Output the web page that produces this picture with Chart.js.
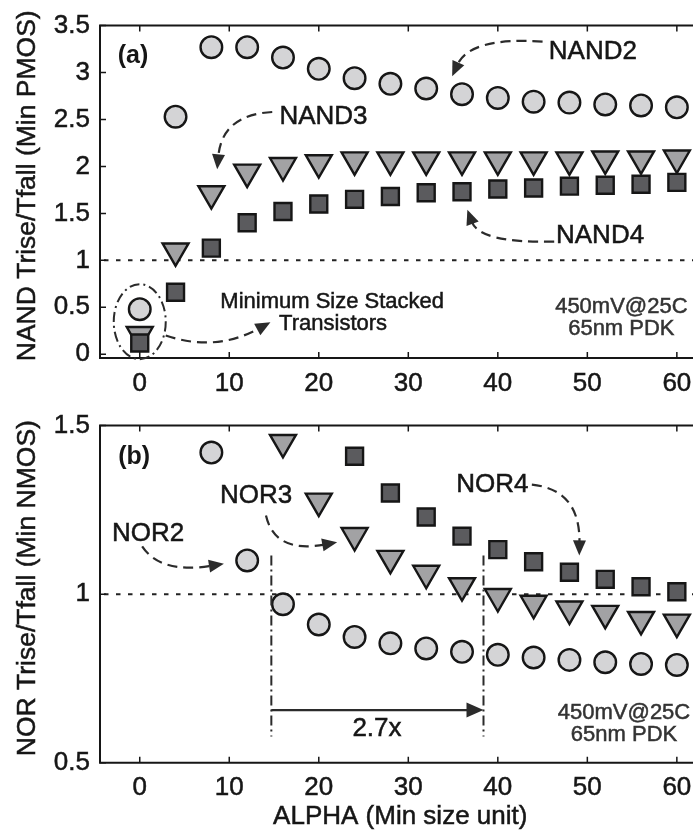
<!DOCTYPE html>
<html>
<head>
<meta charset="utf-8">
<script src="https://cdn.jsdelivr.net/npm/chart.js@4.4.1/dist/chart.umd.min.js"></script>
<style>
  html, body { margin: 0; padding: 0; background: #fff; }
  #wrap { position: relative; width: 693px; height: 833px; overflow: hidden; }
  canvas { position: absolute; left: 0; }
  #nandChart { top: 0; }
  #norChart { top: 400px; }
</style>
</head>
<body>
<div id="wrap">
  <canvas id="nandChart" width="760" height="400"></canvas>
  <canvas id="norChart" width="760" height="433"></canvas>
</div>
<script>
const alpha = [0, 4, 8, 12, 16, 20, 24, 28, 32, 36, 40, 44, 48, 52, 56, 60];
const nand2 = [0.48, 2.53, 3.27, 3.27, 3.16, 3.04, 2.94, 2.88, 2.83, 2.77, 2.73, 2.69, 2.68, 2.66, 2.65, 2.63];
const nand3 = [0.21, 1.10, 1.71, 1.94, 2.01, 2.04, 2.07, 2.07, 2.07, 2.07, 2.07, 2.07, 2.07, 2.08, 2.08, 2.09];
const nand4 = [0.12, 0.66, 1.13, 1.40, 1.52, 1.60, 1.65, 1.68, 1.72, 1.73, 1.76, 1.77, 1.79, 1.80, 1.81, 1.83];
const nor2 = [null, null, 1.42, 1.10, 0.97, 0.91, 0.873, 0.854, 0.839, 0.829, 0.820, 0.812, 0.805, 0.798, 0.793, 0.790];
const nor3 = [null, null, null, null, 1.45, 1.276, 1.174, 1.106, 1.062, 1.025, 0.993, 0.973, 0.956, 0.943, 0.925, 0.917];
const nor4 = [null, null, null, null, null, null, 1.409, 1.30, 1.229, 1.172, 1.132, 1.096, 1.065, 1.044, 1.022, 1.007];

const xTicks = [0, 10, 20, 30, 40, 50, 60];
const nandTicks = [0, 0.5, 1, 1.5, 2, 2.5, 3, 3.5];
const norTicks = [0.5, 1, 1.5];
const nandTitle = 'NAND Trise/Tfall (Min PMOS)';
const norTitle = 'NOR Trise/Tfall (Min NMOS)';
const xTitle = 'ALPHA (Min size unit)';
const condition = ['450mV@25C', '65nm PDK'];

const FONT = "'Liberation Sans', Arial, Helvetica, sans-serif";
const INK = '#161616';

const pts = (ys) => alpha.map((x, i) => ({ x, y: ys[i] })).filter(p => p.y !== null);

const circleSet = (ys) => ({ data: pts(ys), pointStyle: 'circle', radius: 10.8, backgroundColor: '#d4d4d6', borderColor: INK, borderWidth: 2.4, order: 3 });
const triSet = (ys) => ({ data: pts(ys), pointStyle: 'triangle', rotation: 180, radius: 15, backgroundColor: '#a2a2a4', borderColor: INK, borderWidth: 2.4, order: 2 });
const squareSet = (ys) => ({ data: pts(ys), pointStyle: 'rect', radius: 12, backgroundColor: '#5b5b5e', borderColor: INK, borderWidth: 2.4, order: 1 });

function toPx(chart, p) {
  return { x: chart.scales.x.getPixelForValue(p[0]), y: chart.scales.y.getPixelForValue(p[1]) };
}

function arrowHead(ctx, tip, from, len, half) {
  const dx = tip.x - from.x, dy = tip.y - from.y;
  const d = Math.hypot(dx, dy) || 1;
  const ux = dx / d, uy = dy / d;
  const bx = tip.x - ux * len, by = tip.y - uy * len;
  ctx.beginPath();
  ctx.moveTo(tip.x, tip.y);
  ctx.lineTo(bx - uy * half, by + ux * half);
  ctx.lineTo(bx + uy * half, by - ux * half);
  ctx.closePath();
  ctx.fill();
  return { x: bx + ux * 2, y: by + uy * 2 };
}

function curvedArrow(chart, p0, p1, p2) {
  const ctx = chart.ctx;
  const a = toPx(chart, p0), b = toPx(chart, p1), c = toPx(chart, p2);
  ctx.save();
  ctx.strokeStyle = '#2b2b2b';
  ctx.fillStyle = '#2b2b2b';
  ctx.lineWidth = 2.2;
  const base = arrowHead(ctx, c, b, 15, 6.5);
  ctx.setLineDash([10, 6]);
  ctx.beginPath();
  ctx.moveTo(a.x, a.y);
  ctx.quadraticCurveTo(b.x, b.y, base.x, base.y);
  ctx.stroke();
  ctx.restore();
}

function label(chart, txt, p, size, opts = {}) {
  const ctx = chart.ctx;
  const q = toPx(chart, p);
  ctx.save();
  ctx.font = `${opts.bold ? 'bold ' : ''}${size}px ${FONT}`;
  ctx.fillStyle = opts.color || INK;
  ctx.strokeStyle = opts.color || INK;
  ctx.lineWidth = 0.5;
  ctx.textAlign = opts.align || 'center';
  ctx.textBaseline = 'middle';
  ctx.fillText(txt, q.x, q.y);
  if (!opts.bold) ctx.strokeText(txt, q.x, q.y);
  ctx.restore();
}

function vDashDot(chart, x, y0, y1) {
  const ctx = chart.ctx;
  const a = toPx(chart, [x, y0]), b = toPx(chart, [x, y1]);
  ctx.save();
  ctx.strokeStyle = '#2b2b2b';
  ctx.lineWidth = 2;
  ctx.setLineDash([10, 4, 2, 4]);
  ctx.beginPath();
  ctx.moveTo(a.x, a.y);
  ctx.lineTo(b.x, b.y);
  ctx.stroke();
  ctx.restore();
}

const frame = {
  id: 'frame',
  beforeDatasetsDraw(chart, args, o) {
    const { ctx, chartArea: ca } = chart;
    const y = chart.scales.y.getPixelForValue(o.refY);
    ctx.save();
    ctx.strokeStyle = '#222';
    ctx.lineWidth = 2;
    ctx.setLineDash([4.5, 7.5]);
    ctx.beginPath();
    ctx.moveTo(ca.left + 4, y);
    ctx.lineTo(ca.right, y);
    ctx.stroke();
    ctx.restore();
  },
  afterDatasetsDraw(chart, args, o) {
    const { ctx, chartArea: ca } = chart;
    ctx.save();
    ctx.strokeStyle = INK;
    ctx.lineWidth = 2;
    ctx.beginPath();
    ctx.moveTo(ca.right, ca.top);
    ctx.lineTo(ca.left, ca.top);
    ctx.lineTo(ca.left, ca.bottom);
    ctx.lineTo(ca.right, ca.bottom);
    ctx.stroke();
    ctx.lineWidth = 1.5;
    ctx.beginPath();
    xTicks.forEach(v => {
      const x = chart.scales.x.getPixelForValue(v);
      ctx.moveTo(x, ca.top); ctx.lineTo(x, ca.top + 6);
      ctx.moveTo(x, ca.bottom); ctx.lineTo(x, ca.bottom - 6);
    });
    o.yTicks.forEach(v => {
      const y = chart.scales.y.getPixelForValue(v);
      ctx.moveTo(ca.left, y); ctx.lineTo(ca.left + 6, y);
    });
    ctx.stroke();

    ctx.fillStyle = INK;
    ctx.strokeStyle = INK;
    ctx.lineWidth = 0.5;
    ctx.font = `26.5px ${FONT}`;
    ctx.textAlign = 'center';
    ctx.textBaseline = 'middle';
    ctx.translate(27.5, (ca.top + ca.bottom) / 2 - 6);
    ctx.rotate(-Math.PI / 2);
    ctx.fillText(o.yTitle, 0, 0);
    ctx.strokeText(o.yTitle, 0, 0);
    ctx.restore();

    o.notes(chart);
  }
};

const tickFont = { font: { size: 26, family: FONT }, color: INK, textStrokeColor: INK, textStrokeWidth: 0.5, padding: 10, autoSkip: false, callback: v => `${v}` };

// the plot runs past the right edge of the picture, as in the cropped original
function makeChart(id, cfg) {
  return new Chart(document.getElementById(id), {
    type: 'scatter',
    data: { datasets: cfg.datasets },
    options: {
      responsive: false,
      animation: false,
      events: [],
      layout: { padding: { top: cfg.padTop, left: 0, right: 40, bottom: 0 } },
      plugins: {
        legend: { display: false },
        tooltip: { enabled: false },
        frame: { refY: 1, yTicks: cfg.yTicks, yTitle: cfg.yTitle, notes: cfg.notes }
      },
      scales: {
        x: {
          type: 'linear', min: -4.44, max: 64.82,
          afterBuildTicks: s => { s.ticks = xTicks.map(v => ({ value: v })); },
          afterFit: s => { s.height = cfg.xAxisH; },
          grid: { display: false, drawTicks: false },
          border: { display: false },
          ticks: { ...tickFont, maxRotation: 0 }
        },
        y: {
          type: 'linear', min: cfg.yMin, max: cfg.yMax,
          afterBuildTicks: s => { s.ticks = cfg.yTicks.map(v => ({ value: v })); },
          afterFit: s => { s.width = 100; },
          grid: { display: false, drawTicks: false },
          border: { display: false },
          ticks: { ...tickFont }
        }
      }
    },
    plugins: [frame]
  });
}

makeChart('nandChart', {
  datasets: [circleSet(nand2), triSet(nand3), squareSet(nand4)],
  yMin: -0.04, yMax: 3.5, yTicks: nandTicks, yTitle: nandTitle,
  padTop: 16, xAxisH: 42,
  notes: (c) => {
    label(c, '(a)', [-0.75, 3.18], 25, { bold: true });
    label(c, 'NAND2', [45.7, 3.22], 26, { align: 'left' });
    curvedArrow(c, [45.0, 3.33], [36.9, 3.38], [34.9, 2.96]);
    label(c, 'NAND3', [15.6, 2.53], 26, { align: 'left' });
    curvedArrow(c, [14.8, 2.58], [9.2, 2.55], [8.65, 1.97]);
    label(c, 'NAND4', [46.5, 1.26], 26, { align: 'left' });
    curvedArrow(c, [46.3, 1.20], [38.0, 1.18], [36.6, 1.54]);
    label(c, 'Minimum Size Stacked', [21.5, 0.56], 22);
    label(c, 'Transistors', [21.6, 0.32], 22);
    curvedArrow(c, [2.9, 0.20], [8.4, 0.02], [14.6, 0.34]);
    label(c, condition[0], [53.8, 0.50], 22, { color: '#333' });
    label(c, condition[1], [53.8, 0.27], 22, { color: '#333' });
    const ctx = c.ctx;
    const ctr = toPx(c, [0, 0.347]);
    ctx.save();
    ctx.strokeStyle = '#2b2b2b';
    ctx.lineWidth = 2;
    ctx.setLineDash([10, 4, 2, 4]);
    ctx.beginPath();
    ctx.ellipse(ctr.x, ctr.y, 26, 37.5, 0, 0, Math.PI * 2);
    ctx.stroke();
    ctx.restore();
  }
});

makeChart('norChart', {
  datasets: [circleSet(nor2), triSet(nor3), squareSet(nor4)],
  yMin: 0.5, yMax: 1.5, yTicks: norTicks, yTitle: norTitle,
  padTop: 20.7, xAxisH: 70.3,
  notes: (c) => {
    label(c, '(b)', [-0.63, 1.406], 25, { bold: true });
    label(c, 'NOR2', [0.93, 1.18], 26);
    curvedArrow(c, [0.27, 1.142], [2.3, 1.06], [9.4, 1.09]);
    label(c, 'NOR3', [13.0, 1.291], 26);
    curvedArrow(c, [14.1, 1.233], [15.1, 1.12], [22.05, 1.154]);
    label(c, 'NOR4', [39.4, 1.324], 26);
    curvedArrow(c, [43.8, 1.325], [49.2, 1.31], [49.1, 1.115]);
    vDashDot(c, 14.7, 1.115, 0.578);
    vDashDot(c, 38.4, 1.115, 0.578);
    const ctx = c.ctx;
    const a = toPx(c, [14.7, 0.656]), b = toPx(c, [38.4, 0.656]);
    ctx.save();
    ctx.strokeStyle = '#2b2b2b';
    ctx.fillStyle = '#2b2b2b';
    ctx.lineWidth = 2.2;
    const base = arrowHead(ctx, b, a, 17, 7.5);
    ctx.beginPath();
    ctx.moveTo(a.x, a.y);
    ctx.lineTo(base.x, base.y);
    ctx.stroke();
    ctx.restore();
    label(c, '2.7x', [26.5, 0.601], 26);
    label(c, condition[0], [54.1, 0.648], 22, { color: '#333' });
    label(c, condition[1], [54.1, 0.581], 22, { color: '#333' });
    label(c, xTitle, [29.1, 0.34], 26);
  }
});
</script>
</body>
</html>
